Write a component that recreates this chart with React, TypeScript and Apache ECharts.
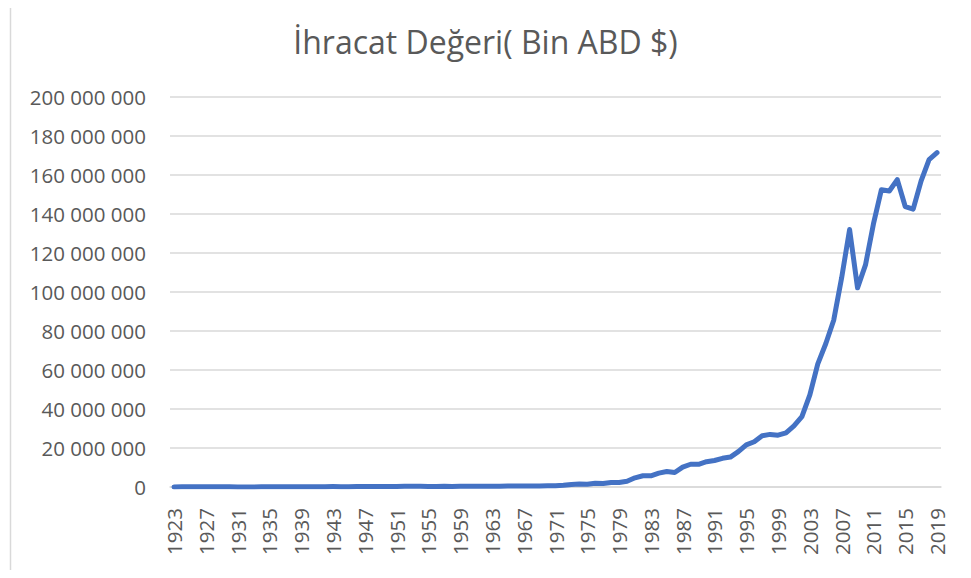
import React, { useEffect, useRef } from "react";
import * as echarts from "echarts";

const years: string[] = [];
for (let y = 1923; y <= 2019; y++) years.push(String(y));

// İhracat değeri (Bin ABD $)
const exportValues = [
  50790, 82435, 102700, 96437, 80749, 88278, 74827, 71380, 60226, 47972,
  45941, 73981, 72046, 93603, 109208, 114862, 99628, 80904, 91056, 126115,
  196799, 177965, 168264, 214580, 223274, 196811, 247825, 263424, 314082, 362914,
  396061, 334924, 313329, 304991, 345217, 247271, 353798, 320731, 346738, 381182,
  368087, 410771, 463738, 490508, 522334, 496419, 536834, 588476, 676602, 885000,
  1317083, 1532182, 1401075, 1960214, 1753026, 2288163, 2261195, 2910122, 4702934, 5746044,
  5727834, 7133604, 7958010, 7456725, 10190049, 11662024, 11624692, 12959288, 13593462, 14714629,
  15345067, 18105872, 21637041, 23224465, 26261072, 26973952, 26587225, 27774906, 31334216, 36059089,
  47252836, 63167153, 73476408, 85534676, 107271750, 132027196, 102142613, 113883219, 134906869, 152461737,
  151802637, 157610158, 143838871, 142529584, 156992940, 167920613, 171464594,
];

const titleText = "İhracat Değeri( Bin ABD $)";

const fmt = (v: number) =>
  String(Math.round(v)).replace(/\B(?=(\d{3})+(?!\d))/g, " ");

export default function App() {
  const ref = useRef<HTMLDivElement>(null);
  useEffect(() => {
    if (!ref.current) return;
    const chart = echarts.init(ref.current, null, { renderer: "svg" });
    const font = "'Open Sans', 'Noto Sans', sans-serif";
    chart.setOption({
      animation: false,
      backgroundColor: "#ffffff",
      title: {
        text: titleText,
        left: "center",
        top: 20,
        textStyle: {
          fontFamily: font,
          fontSize: 32,
          fontWeight: "normal",
          color: "#595959",
        },
      },
      graphic: [
        {
          type: "rect",
          shape: { x: 10.5, y: -5, width: 958.5, height: 578.5 },
          style: { fill: "none", stroke: "#d9d9d9", lineWidth: 1.5 },
          silent: true,
        },
      ],
      grid: { left: 170, right: 30, top: 97, bottom: 91, containLabel: false },
      xAxis: {
        type: "category",
        data: years,
        boundaryGap: true,
        axisLine: { show: true, lineStyle: { color: "#d9d9d9", width: 1.5 } },
        axisTick: { show: false },
        axisLabel: {
          interval: 3,
          rotate: 90,
          margin: 21,
          fontFamily: font,
          fontSize: 20.5,
          color: "#595959",
        },
        splitLine: { show: false },
      },
      yAxis: {
        type: "value",
        min: 0,
        max: 200000000,
        interval: 20000000,
        axisLine: { show: false },
        axisTick: { show: false },
        axisLabel: {
          margin: 24,
          fontFamily: font,
          fontSize: 20.5,
          color: "#595959",
          formatter: (v: number) => fmt(v),
        },
        splitLine: { show: true, lineStyle: { color: "#d9d9d9", width: 1.5 } },
      },
      series: [
        {
          type: "line",
          data: exportValues,
          showSymbol: false,
          symbol: "none",
          lineStyle: { color: "#4472C4", width: 5, cap: "round", join: "round" },
        },
      ],
    });
    return () => chart.dispose();
  }, []);
  return (
    <div
      ref={ref}
      style={{ width: 971, height: 578, margin: -8, background: "#fff" }}
    />
  );
}
